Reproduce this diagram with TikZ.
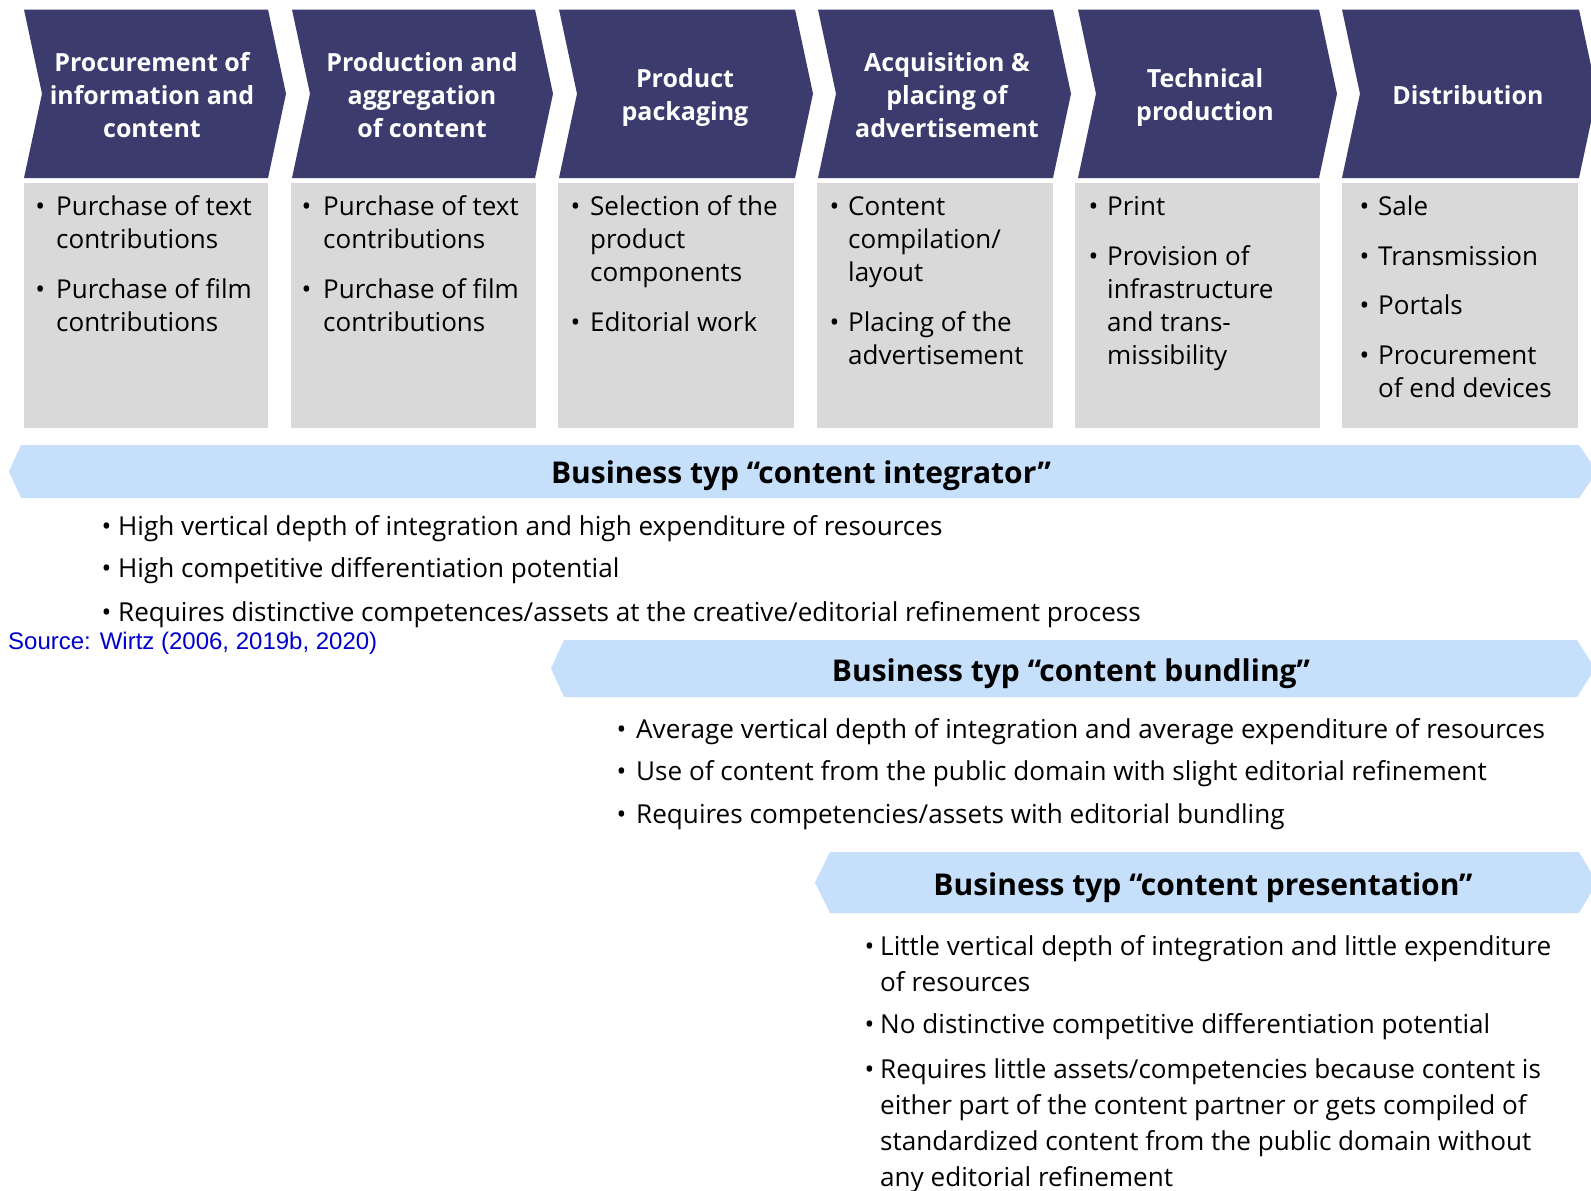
\documentclass[tikz,border=0pt]{standalone}
\usepackage{fontspec}
\setmainfont{Open Sans}
\newfontfamily\srcfont{Liberation Sans}
\definecolor{navy}{RGB}{60,59,110}
\definecolor{boxgray}{RGB}{217,217,217}
\definecolor{bandblue}{RGB}{198,224,252}
\definecolor{srcblue}{RGB}{0,0,204}
\tikzset{
  chevshape/.style={fill=navy},
  grayshape/.style={fill=boxgray},
  bandshape/.style={fill=bandblue},
  headtxt/.style={text=white, font=\bfseries\fontsize{25}{33.3}\selectfont, anchor=base, inner sep=0pt},
  boxtxt/.style={font=\fontsize{26}{33.3}\selectfont, anchor=base west, inner sep=0pt},
  bul/.style={font=\fontsize{26}{33.3}\selectfont, anchor=base west, inner sep=0pt, xshift=-3.5pt},
  bandtitle/.style={font=\bfseries\fontsize{30}{36}\selectfont, anchor=base, inner sep=0pt},
  lowtxt/.style={font=\fontsize{26.1}{36}\selectfont, anchor=base west, inner sep=0pt},
  srctxt/.style={font=\srcfont\fontsize{24}{28}\selectfont, text=srcblue, anchor=base west, inner sep=0pt}
}
\newcommand{\tl}[1]{\begin{tabular}[t]{@{}l@{}}#1\end{tabular}}
\newcommand{\tc}[1]{\begin{tabular}[t]{@{}c@{}}#1\end{tabular}}
\newcommand{\mychev}[2]{\fill[chevshape] (#1,9.5) -- (#2,9.5) -- ++(18,84.25) -- ++(-18,84.25) -- (#1,178) -- ++(18,-84.25) -- cycle;}
\newcommand{\mygray}[2]{\fill[grayshape] (#1,183) rectangle (#2,428);}
\newcommand{\bitem}[5]{\node[bul] (#1b) at (#2,#4) {•}; \node[boxtxt] (#1) at (#3,#4) {\tl{#5}};}
\newcommand{\litem}[5]{\node[bul] (#1b) at (#2,#4) {•}; \node[lowtxt] (#1) at (#3,#4) {\tl{#5}};}
\begin{document}
\begin{tikzpicture}[x=1pt,y=-1pt]
\useasboundingbox (0,0) rectangle (1591,1191);
\fill[white] (0,0) rectangle (1591,1191);
% chevrons
\mychev{24}{268}
\mychev{292}{535}
\mychev{559}{795}
\mychev{818}{1053}
\mychev{1078}{1319}
\mychev{1342}{1579}
% gray boxes
\mygray{24}{268}
\mygray{291}{536}
\mygray{558}{794}
\mygray{817}{1053}
\mygray{1075}{1320}
\mygray{1342}{1578}
% chevron titles
\node[headtxt] (h1) at (152,71) {\tc{Procurement of\\information and\\content}};
\node[headtxt] (h2) at (422,71) {\tc{Production and\\aggregation\\of content}};
\node[headtxt] (h3) at (685,87) {\tc{Product\\packaging}};
\node[headtxt] (h4) at (947,71) {\tc{Acquisition \&\\placing of\\advertisement}};
\node[headtxt] (h5) at (1205,87) {\tc{Technical\\production}};
\node[headtxt] (h6) at (1468,104) {Distribution};
% box items
\bitem{i1a}{38.6}{56}{215}{Purchase of text\\contributions}
\bitem{i1b}{38.6}{56}{298}{Purchase of film\\contributions}
\bitem{i2a}{305}{323}{215}{Purchase of text\\contributions}
\bitem{i2b}{305}{323}{298}{Purchase of film\\contributions}
\bitem{i3a}{574}{590}{215}{Selection of the\\product\\components}
\bitem{i3b}{574}{590}{331}{Editorial work}
\bitem{i4a}{833}{848}{215}{Content\\compilation/\\layout}
\bitem{i4b}{833}{848}{331}{Placing of the\\advertisement}
\bitem{i5a}{1092}{1107}{215}{Print}
\bitem{i5b}{1092}{1107}{265}{Provision of\\infrastructure\\and trans-\\missibility}
\bitem{i6a}{1363}{1378}{215}{Sale}
\bitem{i6b}{1363}{1378}{265}{Transmission}
\bitem{i6c}{1363}{1378}{314}{Portals}
\bitem{i6d}{1363}{1378}{364}{Procurement\\of end devices}
% bands
\fill[bandshape] (9,471.5) -- (21,445) -- (1579,445) -- (1597,471.5) -- (1579,498) -- (21,498) -- cycle;
\fill[bandshape] (551,668.5) -- (564,640) -- (1577,640) -- (1595,668.5) -- (1577,697) -- (564,697) -- cycle;
\fill[bandshape] (815,882.5) -- (830,852) -- (1579,852) -- (1597,882.5) -- (1579,913) -- (830,913) -- cycle;
\node[bandtitle] (t1) at (801,483) {Business typ “content integrator”};
\node[bandtitle] (t2) at (1071,681) {Business typ “content bundling”};
\node[bandtitle] (t3) at (1203,895) {Business typ “content presentation”};
% lower bullets
\litem{l1a}{105}{118}{535}{High vertical depth of integration and high expenditure of resources}
\litem{l1b}{105}{118}{577}{High competitive differentiation potential}
\litem{l1c}{105}{118}{621}{Requires distinctive competences/assets at the creative/editorial refinement process}
\node[srctxt] (src) at (8,649) {Source: Wirtz (2006, 2019b, 2020)};
\litem{l2a}{620}{636}{738}{Average vertical depth of integration and average expenditure of resources}
\litem{l2b}{620}{636}{780}{Use of content from the public domain with slight editorial refinement}
\litem{l2c}{620}{636}{823}{Requires competencies/assets with editorial bundling}
\litem{l3a}{868}{880}{955}{Little vertical depth of integration and little expenditure\\of resources}
\litem{l3b}{868}{880}{1033}{No distinctive competitive differentiation potential}
\litem{l3c}{868}{880}{1078}{Requires little assets/competencies because content is\\either part of the content partner or gets compiled of\\standardized content from the public domain without\\any editorial refinement}
\end{tikzpicture}
\end{document}
